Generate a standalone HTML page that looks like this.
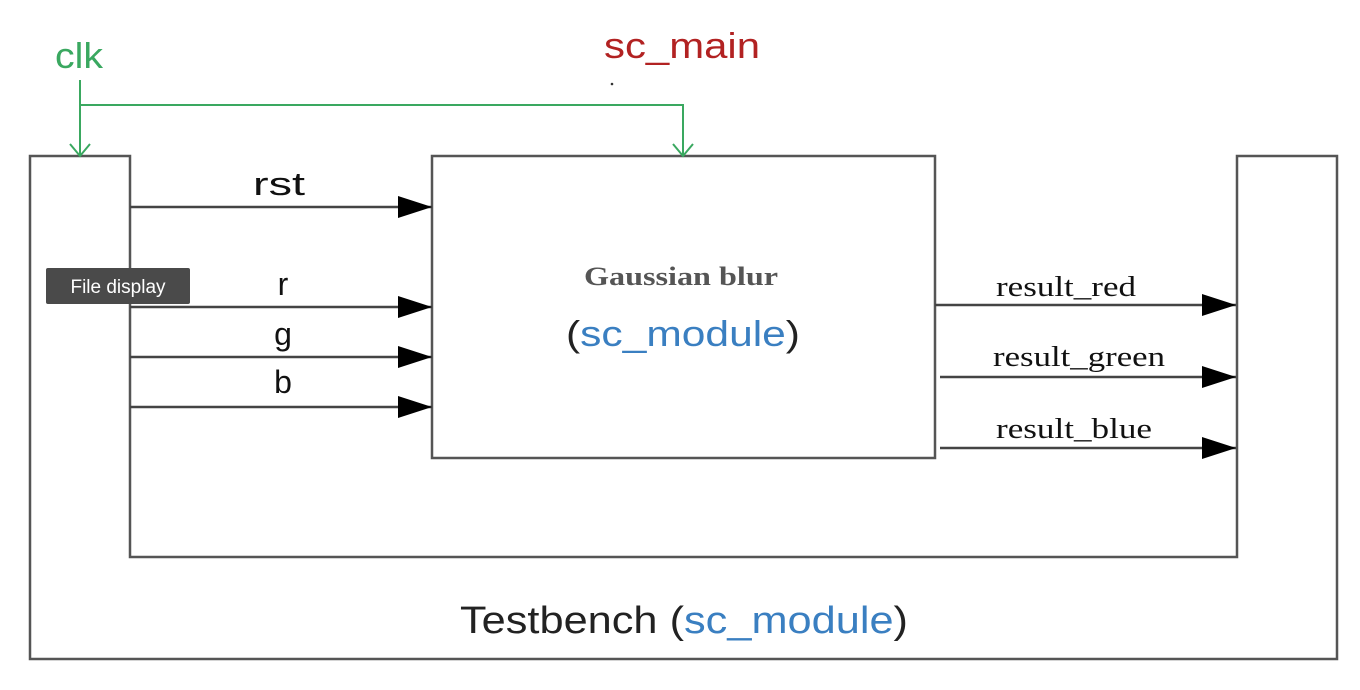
<!DOCTYPE html>
<html><head><meta charset="utf-8"><style>html,body{margin:0;padding:0;background:#fff}svg{display:block}</style></head>
<body>
<svg width="1360" height="690" viewBox="0 0 1360 690" xmlns="http://www.w3.org/2000/svg">
<defs>
<marker id="ah" markerWidth="34" markerHeight="22" refX="34" refY="11" orient="auto" markerUnits="userSpaceOnUse">
<path d="M0,0 L34,11 L0,22 Z" fill="#000"/></marker>
</defs>
<g fill="none" stroke="#555" stroke-width="2.5">
<path d="M30,156 H130 V557 H1237 V156 H1337 V659 H30 Z"/>
<rect x="432" y="156" width="503" height="302"/>
</g>
<g stroke="#444" stroke-width="2.5" marker-end="url(#ah)">
<line x1="130" y1="207" x2="432" y2="207"/>
<line x1="130" y1="307" x2="432" y2="307"/>
<line x1="130" y1="357" x2="432" y2="357"/>
<line x1="130" y1="407" x2="432" y2="407"/>
<line x1="935" y1="305" x2="1236" y2="305"/>
<line x1="940" y1="377" x2="1236" y2="377"/>
<line x1="940" y1="448" x2="1236" y2="448"/>
</g>
<g stroke="#3aa860" stroke-width="2" fill="none">
<path d="M80,80 V156 M80,105 H683 V156"/>
<path d="M70,144 L80,156 L90,144 M673,144 L683,156 L693,144"/>
</g>
<g font-family="Liberation Sans, sans-serif" lengthAdjust="spacingAndGlyphs">
<text x="55" y="68" font-size="36" fill="#3aa860" textLength="48" lengthAdjust="spacingAndGlyphs">clk</text>
<text x="604" y="58" font-size="36" fill="#b22222" textLength="156" lengthAdjust="spacingAndGlyphs">sc_main</text>
<circle cx="612" cy="84" r="1.3" fill="#333"/>
<text x="253" y="195" font-size="32" fill="#111" textLength="52" lengthAdjust="spacingAndGlyphs">rst</text>
<text x="283" y="295" font-size="32" text-anchor="middle" fill="#111">r</text>
<text x="283" y="345" font-size="32" text-anchor="middle" fill="#111">g</text>
<text x="283" y="393" font-size="32" text-anchor="middle" fill="#111">b</text>
<text x="566" y="346" font-size="36" fill="#222" textLength="234" lengthAdjust="spacingAndGlyphs">(<tspan fill="#3a7fc1">sc_module</tspan>)</text>
<text x="460" y="633" font-size="38" fill="#222" textLength="448" lengthAdjust="spacingAndGlyphs">Testbench (<tspan fill="#3a7fc1">sc_module</tspan>)</text>
</g>
<g font-family="Liberation Serif, serif">
<text x="584" y="285" font-size="26" font-weight="bold" fill="#555" textLength="194" lengthAdjust="spacingAndGlyphs">Gaussian blur</text>
<text x="996" y="296" font-size="29" fill="#111" textLength="140" lengthAdjust="spacingAndGlyphs">result_red</text>
<text x="993" y="366" font-size="29" fill="#111" textLength="172" lengthAdjust="spacingAndGlyphs">result_green</text>
<text x="996" y="438" font-size="29" fill="#111" textLength="156" lengthAdjust="spacingAndGlyphs">result_blue</text>
</g>
<rect x="46" y="268" width="144" height="36" rx="2" fill="#4a4a4a"/>
<text x="118" y="293" font-family="Liberation Sans, sans-serif" font-size="19" fill="#fff" text-anchor="middle">File display</text>
</svg>
</body></html>
